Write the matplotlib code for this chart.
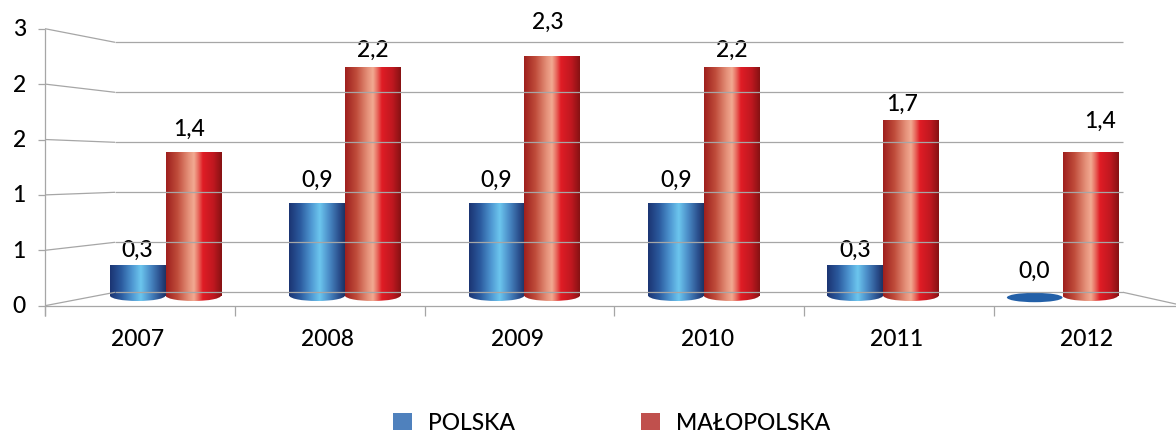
import numpy as np
import matplotlib
matplotlib.use("Agg")
import matplotlib.pyplot as plt
from matplotlib.colors import LinearSegmentedColormap
from matplotlib.patches import Ellipse, Rectangle
from matplotlib.transforms import Affine2D

# ---------------- data ----------------
years = ["2007", "2008", "2009", "2010", "2011", "2012"]
polska = [0.3, 0.9, 0.9, 0.9, 0.3, 0.0]
malopolska = [1.40, 2.23, 2.34, 2.23, 1.71, 1.40]
series_names = ["POLSKA", "MAŁOPOLSKA"]
ytick_values = [0.0, 0.5, 1.0, 1.5, 2.0, 2.5]
ytick_labels = ["0", "1", "1", "2", "2", "3"]

# label offsets (pixels) : layout only
pol_off = [(-1, 15), (0, 24), (0, 24), (0, 24), (0, 15.5), (-1, 25)]
mal_off = [(-4, 24), (0, 18), (-4, 34.5), (0, 18), (-9, 16.5), (9.5, 32)]

W, H = 1176, 435
FONT = "Lato"
FW = 500
FS = 16.5
GRID = "#a6a6a6"

# perspective planes (image pixel geometry, y from top)
FRONT = dict(x0=45.0, dx=189.75, y0=306.7, dy=110.8)
BACK = dict(x0=115.0, dx=168.0, y0=293.3, dy=100.0)
BAR = dict(x0=75.8, dx=179.4, y0=296.5, dy=102.5)

fig = plt.figure(figsize=(W / 100, H / 100), dpi=100)
fig.patch.set_facecolor("white")

# axes aligned with the bar plane: x in category units, y in values
ncat = len(years)
left = BAR["x0"] / W
width = BAR["dx"] * ncat / W
bottom = (H - BAR["y0"]) / H
height = BAR["dy"] * 2.5 / H
ax = fig.add_axes([left, bottom, width, height])
ax.set_xlim(-0.5, ncat - 0.5)
ax.set_ylim(0, 2.5)
ax.axis("off")

# transform for image-pixel coordinates (y from top)
pix = Affine2D().scale(1.0 / W, -1.0 / H).translate(0, 1) + fig.transFigure


def pt(plane, c, v):
    return plane["x0"] + plane["dx"] * c, plane["y0"] - plane["dy"] * v


def line(p1, p2, **kw):
    fig.add_artist(plt.Line2D([p1[0], p2[0]], [p1[1], p2[1]], transform=pix,
                              color=GRID, lw=0.9, solid_capstyle="butt", **kw))


# gridlines: left wall + back wall
for v in ytick_values:
    fl = pt(FRONT, 0, v)
    bl = pt(BACK, 0, v)
    br = pt(BACK, ncat, v)
    line(fl, bl)
    line(bl, br)
    line((fl[0] - 7, fl[1]), fl)
# vertical axis line
line(pt(FRONT, 0, 2.5), (FRONT["x0"], FRONT["y0"] + 10))
# floor
line(pt(FRONT, 0, 0), pt(FRONT, ncat, 0))
line(pt(BACK, ncat, 0), pt(FRONT, ncat, 0))
for c in range(ncat + 1):
    p = pt(FRONT, c, 0)
    line(p, (p[0], p[1] + 10))

# y tick labels
for v, lab in zip(ytick_values, ytick_labels):
    x, y = pt(FRONT, 0, v)
    fig.text(x - 19, y, lab, transform=pix, ha="right", va="center",
             fontsize=FS, family=FONT, weight=FW, color="black")
# category labels
for i, yr in enumerate(years):
    x, y = pt(FRONT, i + 0.5, 0)
    fig.text(x - 2, 340, yr, transform=pix, ha="center", va="center",
             fontsize=FS, family=FONT, weight=FW, color="black")

# cylinder colormaps
blue_cmap = LinearSegmentedColormap.from_list("b", [
    (0.0, "#1b3472"), (0.2, "#2b5a9e"), (0.4, "#4f98d2"), (0.55, "#6cc6ee"),
    (0.72, "#4a8bc6"), (0.9, "#2a4e8c"), (1.0, "#1d3262")])
red_cmap = LinearSegmentedColormap.from_list("r", [
    (0.0, "#9e1f1d"), (0.2, "#bf4b3a"), (0.4, "#e48f78"), (0.5, "#f2aa92"),
    (0.58, "#e86a5e"), (0.66, "#e01c25"), (0.85, "#bf1820"), (1.0, "#861213")])
grad = np.linspace(0, 1, 256).reshape(1, -1)

bw = 0.31
ell_h = 5.5 / BAR["dy"]  # semi-minor in value units


def cylinder(cx, h, cmap, flat_color):
    x0, x1 = cx - bw / 2, cx + bw / 2
    if h <= 0:
        z = Ellipse((cx, -2.0 / BAR["dy"]), bw, 2 * 4.7 / BAR["dy"],
                    facecolor=flat_color, edgecolor="none", zorder=3)
        ax.add_patch(z)
        z.set_clip_on(False)
        return
    e = Ellipse((cx, 0), bw, 2 * ell_h, facecolor="none", edgecolor="none")
    ax.add_patch(e)
    e.set_clip_on(False)
    im = ax.imshow(grad, cmap=cmap, extent=[x0, x1, -ell_h, ell_h], aspect="auto",
                   interpolation="bilinear", zorder=2)
    im.set_clip_box(fig.bbox)
    im.set_clip_path(e)
    ax.imshow(grad, cmap=cmap, extent=[x0, x1, 0, h], aspect="auto",
              interpolation="bilinear", zorder=3, clip_on=False)


x = np.arange(ncat)
# invisible bars through the axes (data reference), cylinders drawn on top
ax.bar(x - bw / 2, polska, width=bw, color="none", edgecolor="none")
ax.bar(x + bw / 2, malopolska, width=bw, color="none", edgecolor="none")

for i in range(ncat):
    cylinder(x[i] - bw / 2, polska[i], blue_cmap, "#2360a8")
    cylinder(x[i] + bw / 2, malopolska[i], red_cmap, "#c0504d")

ax.set_xlim(-0.5, ncat - 0.5)
ax.set_ylim(0, 2.5)


def fmt(v):
    return f"{v:.1f}".replace(".", ",")


for i in range(ncat):
    for vals, offs, sgn in ((polska, pol_off, -1), (malopolska, mal_off, 1)):
        dx, dy = offs[i]
        ax.annotate(fmt(vals[i]), (x[i] + sgn * bw / 2, vals[i]),
                    xytext=(dx, dy), textcoords="offset pixels",
                    ha="center", va="center", fontsize=FS, family=FONT,
                    weight=FW, color="black", annotation_clip=False, zorder=5)

# legend
handles = [Rectangle((0, 0), 1, 1, facecolor="#4f81bd", edgecolor="none"),
           Rectangle((0, 0), 1, 1, facecolor="#c0504d", edgecolor="none")]
fig.legend(handles, series_names, loc="center", bbox_to_anchor=(612 / W, 1 - 424 / H),
           ncol=2, frameon=False, prop=dict(family=FONT, size=16.5, weight=FW),
           handlelength=0.83, handleheight=0.75, handletextpad=0.70,
           columnspacing=5.5, borderpad=0, borderaxespad=0)

fig.savefig("out.png", dpi=100, facecolor="white")
